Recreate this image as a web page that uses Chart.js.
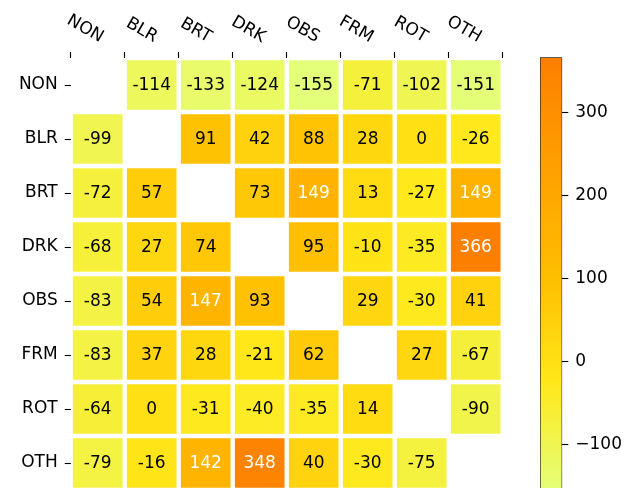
<!DOCTYPE html>
<html>
<head>
<meta charset="utf-8">
<script src="https://cdn.jsdelivr.net/npm/chart.js@4"></script>
<style>
  html, body { margin: 0; padding: 0; background: #fff; overflow: hidden; }
  #wrap { position: relative; width: 625px; height: 488px; overflow: hidden; }
  canvas { position: absolute; left: 0; top: 0; }
</style>
</head>
<body>
<div id="wrap">
  <canvas id="heat" width="625" height="500"></canvas>
  <canvas id="cbar" width="625" height="500"></canvas>
</div>
<script>
// categories (rows and columns are the same)
const groups = ['NON', 'BLR', 'BRT', 'DRK', 'OBS', 'FRM', 'ROT', 'OTH'];

// one array per row, null on the diagonal
const rowNON = [null, -114, -133, -124, -155, -71, -102, -151];
const rowBLR = [-99, null, 91, 42, 88, 28, 0, -26];
const rowBRT = [-72, 57, null, 73, 149, 13, -27, 149];
const rowDRK = [-68, 27, 74, null, 95, -10, -35, 366];
const rowOBS = [-83, 54, 147, 93, null, 29, -30, 41];
const rowFRM = [-83, 37, 28, -21, 62, null, 27, -67];
const rowROT = [-64, 0, -31, -40, -35, 14, null, -90];
const rowOTH = [-79, -16, 142, 348, 40, -30, -75, null];

// colorbar tick labels
const cbarTicks = [-100, 0, 100, 200, 300];

const rows = [rowNON, rowBLR, rowBRT, rowDRK, rowOBS, rowFRM, rowROT, rowOTH];
const allVals = rows.flat().filter(v => v !== null);
const vMin = Math.min(...allVals);
const vMax = Math.max(...allVals);

// matplotlib "Wistia"
const wistia = [[228, 255, 122], [255, 232, 26], [255, 189, 0], [255, 160, 0], [252, 127, 0]];
const norm = v => (v - vMin) / (vMax - vMin);
function cmap(t) {
  t = Math.max(0, Math.min(1, t));
  const s = t * 4;
  const i = Math.min(3, Math.floor(s));
  const f = s - i;
  const a = wistia[i], b = wistia[i + 1];
  const c = a.map((x, k) => Math.round(x + (b[k] - x) * f));
  return 'rgb(' + c.join(',') + ')';
}

const FONT = "'DejaVu Sans', sans-serif";
Chart.defaults.color = '#000';
Chart.defaults.font = { family: FONT, size: 17 };

// values in the cells
const cellText = {
  id: 'cellText',
  afterDatasetsDraw(chart) {
    const ctx = chart.ctx;
    ctx.save();
    ctx.font = '17px ' + FONT;
    ctx.textAlign = 'center';
    ctx.textBaseline = 'middle';
    rows.forEach((vals, r) => {
      const meta = chart.getDatasetMeta(r);
      meta.data.forEach((el, j) => {
        const v = vals[j];
        if (v === null) return;
        const p = el.getProps(['x', 'y', 'base'], true);
        ctx.fillStyle = norm(v) > 0.5 ? '#fff' : '#000';
        ctx.fillText(String(v), p.x, (p.y + p.base) / 2 + 1);
      });
    });
    ctx.restore();
  }
};

// rotated column labels on top
const topLabels = {
  id: 'topLabels',
  afterDraw(chart) {
    const ctx = chart.ctx;
    const xs = chart.scales.x;
    ctx.save();
    ctx.font = '17px ' + FONT;
    ctx.fillStyle = '#000';
    ctx.textAlign = 'right';
    ctx.textBaseline = 'bottom';
    groups.forEach((g, i) => {
      ctx.save();
      ctx.translate(xs.getPixelForTick(i), chart.chartArea.top - 12);
      ctx.rotate(Math.PI / 6);
      ctx.fillText(g, 0, 0);
      ctx.restore();
    });
    ctx.restore();
  }
};

new Chart(document.getElementById('heat'), {
  type: 'bar',
  data: {
    labels: groups,
    datasets: rows.map((vals, r) => ({
      data: vals.map(v => v === null ? null : [r - 0.5, r + 0.5]),
      backgroundColor: vals.map(v => v === null ? 'rgba(0,0,0,0)' : cmap(norm(v))),
      borderColor: '#fff',
      borderWidth: 2.5,
      borderSkipped: false,
      grouped: false,
      barPercentage: 1,
      categoryPercentage: 1
    }))
  },
  options: {
    responsive: false,
    animation: false,
    layout: { padding: { right: 122.3, bottom: 10 } },
    plugins: { legend: { display: false }, tooltip: { enabled: false } },
    scales: {
      x: {
        position: 'top',
        grid: { drawOnChartArea: false, tickLength: 6, tickColor: '#000', tickWidth: 1.1 },
        border: { display: false },
        ticks: { display: false },
        afterFit(s) { s.height = 58; s.paddingLeft = 0; s.paddingRight = 0; }
      },
      y: {
        reverse: true,
        min: -0.5,
        max: 7.5,
        afterBuildTicks(s) { s.ticks = groups.map((g, i) => ({ value: i })); },
        ticks: { callback: v => groups[v], padding: 7 },
        grid: { drawOnChartArea: false, tickLength: 6, tickColor: '#000', tickWidth: 1.1 },
        border: { display: false },
        afterFit(s) { s.width = 70.7; s.paddingTop = 0; s.paddingBottom = 0; }
      }
    }
  },
  plugins: [cellText, topLabels]
});

// colorbar
new Chart(document.getElementById('cbar'), {
  type: 'bar',
  data: {
    labels: [''],
    datasets: [{
      data: [[vMin, vMax]],
      backgroundColor(c) {
        const chart = c.chart;
        if (!chart.chartArea) return 'rgb(' + wistia[0].join(',') + ')';
        const y = chart.scales.y;
        const g = chart.ctx.createLinearGradient(0, y.getPixelForValue(vMin), 0, y.getPixelForValue(vMax));
        wistia.forEach((col, i) => g.addColorStop(i / 4, 'rgb(' + col.join(',') + ')'));
        return g;
      },
      borderColor: 'rgba(0,0,0,0.85)',
      borderWidth: 1,
      borderSkipped: false,
      barPercentage: 1,
      categoryPercentage: 1
    }]
  },
  options: {
    responsive: false,
    animation: false,
    layout: { padding: { left: 540, top: 57.3, bottom: 9.3 } },
    plugins: { legend: { display: false }, tooltip: { enabled: false } },
    scales: {
      x: { display: false },
      y: {
        position: 'right',
        min: vMin,
        max: vMax,
        afterBuildTicks(s) { s.ticks = cbarTicks.map(v => ({ value: v })); },
        ticks: { callback: v => String(v).replace('-', '\u2212'), padding: 7 },
        grid: { drawOnChartArea: false, tickLength: 6, tickColor: '#000', tickWidth: 1.1 },
        border: { display: false },
        afterFit(s) { s.width = 62.7; s.paddingTop = 0; s.paddingBottom = 0; }
      }
    }
  }
});
</script>
</body>
</html>
